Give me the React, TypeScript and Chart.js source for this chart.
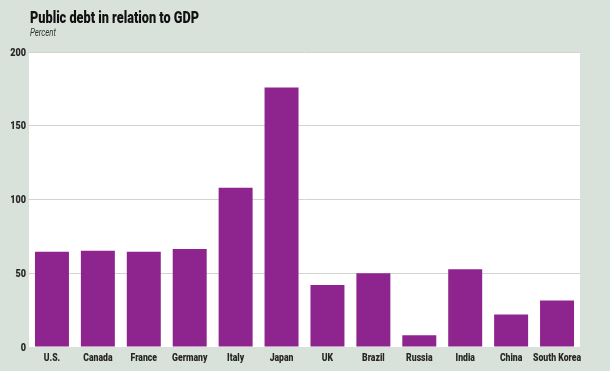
import React, { useEffect, useRef } from "react";
import { Chart, registerables } from "chart.js";

Chart.register(...registerables);

const categories = ["U.S.", "Canada", "France", "Germany", "Italy", "Japan", "UK", "Brazil", "Russia", "India", "China", "South Korea"];
const debtValues = [64.5, 65.3, 64.5, 66.4, 108, 176, 42, 50, 8, 52.7, 22, 31.5];
const yTicks = [0, 50, 100, 150, 200];
const titleText = "Public debt in relation to GDP";
const subtitleText = "Percent";

const BG = "#d9e1db";
const FONT = "Roboto, 'DejaVu Sans', sans-serif";

function drawCondensed(ctx: CanvasRenderingContext2D, text: string, x: number, y: number, font: string, sx: number, align: "left" | "center" | "right") {
  ctx.save();
  ctx.font = font;
  ctx.textBaseline = "alphabetic";
  ctx.textAlign = align;
  ctx.translate(x, y);
  ctx.scale(sx, 1);
  ctx.fillText(text, 0, 0);
  ctx.restore();
}

export default function App() {
  const ref = useRef<HTMLCanvasElement | null>(null);

  useEffect(() => {
    document.body.style.margin = "0";
    const canvas = ref.current;
    if (!canvas) return;

    const bgPlugin = {
      id: "bgPlugin",
      beforeDraw(chart: any) {
        const { ctx, chartArea } = chart;
        ctx.save();
        ctx.fillStyle = BG;
        ctx.fillRect(0, 0, chart.width, chart.height);
        ctx.fillStyle = "#ffffff";
        ctx.fillRect(chartArea.left, chartArea.top, chartArea.right - chartArea.left, chartArea.bottom - chartArea.top);
        ctx.restore();
      },
      afterDraw(chart: any) {
        const ctx: CanvasRenderingContext2D = chart.ctx;
        ctx.save();
        // title
        const tFont = "900 16px " + FONT;
        ctx.font = tFont;
        const tw = ctx.measureText(titleText).width;
        ctx.fillStyle = "#111";
        drawCondensed(ctx, titleText, 30, 23, tFont, 169 / tw, "left");
        // subtitle
        const sFont = "italic 10px " + FONT;
        ctx.font = sFont;
        const sw = ctx.measureText(subtitleText).width;
        ctx.fillStyle = "#333";
        drawCondensed(ctx, subtitleText, 30, 36, sFont, 26 / sw, "left");
        // x labels
        const xs = chart.scales.x;
        const lFont = "900 10px " + FONT;
        ctx.font = lFont;
        const skw = ctx.measureText("South Korea").width;
        const lsx = 48 / skw;
        ctx.fillStyle = "#262626";
        categories.forEach((c, i) => {
          drawCondensed(ctx, c, xs.getPixelForValue(i), 361, lFont, lsx, "center");
        });
        // y labels
        const ys = chart.scales.y;
        yTicks.forEach((v) => {
          drawCondensed(ctx, String(v), 26, ys.getPixelForValue(v) + 3.5, lFont, lsx * 1.05, "right");
        });
        ctx.restore();
      },
    };

    const chart = new Chart(canvas, {
      type: "bar",
      data: {
        labels: categories,
        datasets: [
          {
            data: debtValues,
            backgroundColor: "#8e248e",
            borderWidth: 0,
            barPercentage: 0.74,
            categoryPercentage: 1,
          },
        ],
      },
      options: {
        animation: false,
        responsive: false,
        maintainAspectRatio: false,
        layout: { padding: { top: 52, right: 30, left: 0, bottom: 0 } },
        plugins: { legend: { display: false }, tooltip: { enabled: false }, title: { display: false } },
        scales: {
          x: {
            grid: { display: false, drawTicks: false },
            border: { display: false },
            ticks: { display: false, autoSkip: false },
            afterFit(scale: any) {
              scale.height = 24;
            },
          },
          y: {
            min: 0,
            max: 200,
            afterBuildTicks(scale: any) {
              scale.ticks = yTicks.map((v) => ({ value: v }));
            },
            grid: {
              color: (c: any) => (c.tick && c.tick.value === 0 ? "rgba(0,0,0,0)" : "#d2d4d3"),
              lineWidth: 1,
              drawTicks: false,
            },
            border: { display: false },
            ticks: { display: false },
            afterFit(scale: any) {
              scale.width = 29;
            },
          },
        },
      },
      plugins: [bgPlugin],
    });

    return () => chart.destroy();
  }, []);

  return (
    <div style={{ width: 610, height: 371, background: BG }}>
      <canvas ref={ref} width={610} height={371} style={{ display: "block" }} />
    </div>
  );
}
